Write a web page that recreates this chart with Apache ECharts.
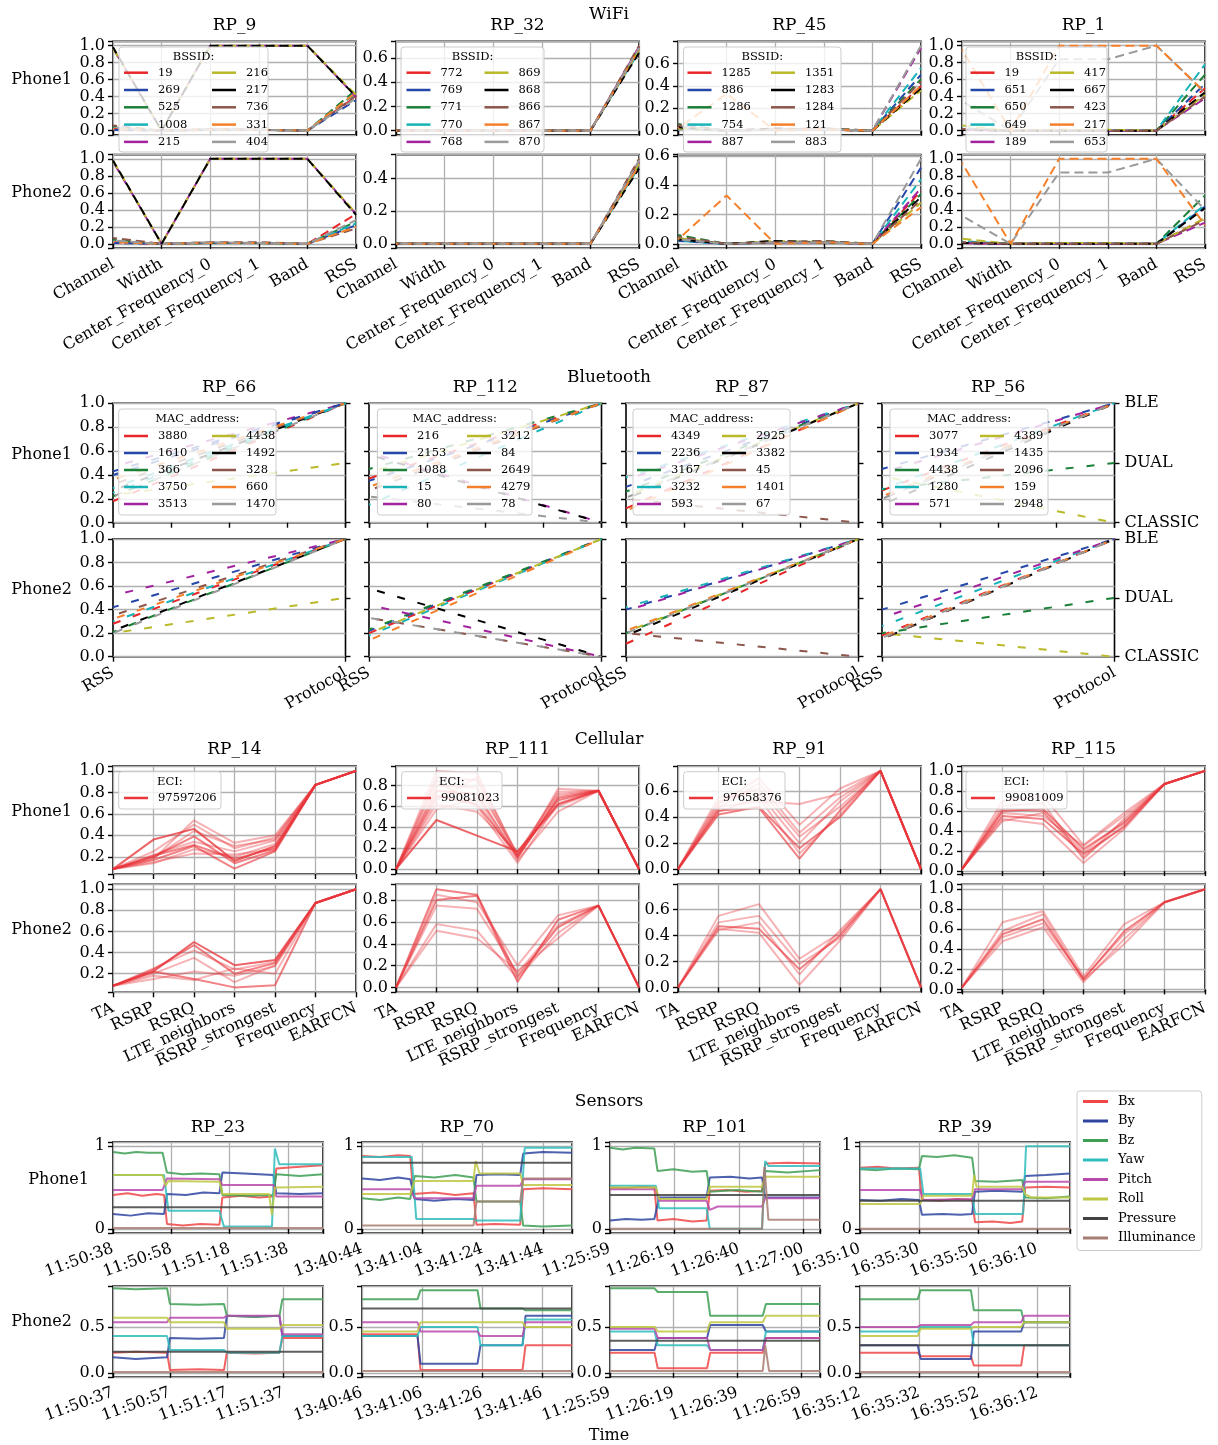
<!DOCTYPE html>
<html>
<head>
<meta charset="utf-8">
<script src="https://cdn.jsdelivr.net/npm/echarts/dist/echarts.min.js"></script>
<style>
  html, body { margin: 0; padding: 0; background: #fff; }
  #chart { width: 1218px; height: 1445px; }
</style>
</head>
<body>
<div id="chart"></div>
<script>
// ---------------- data ----------------
const wifiFeatures = ['Channel', 'Width', 'Center_Frequency_0', 'Center_Frequency_1', 'Band', 'RSS'];
const wifiRPs = ['RP_9', 'RP_32', 'RP_45', 'RP_1'];
const wifiBssids = [
  ['19', '269', '525', '1008', '215', '216', '217', '736', '331', '404'],
  ['772', '769', '771', '770', '768', '869', '868', '866', '867', '870'],
  ['1285', '886', '1286', '754', '887', '1351', '1283', '1284', '121', '883'],
  ['19', '651', '650', '649', '189', '417', '667', '423', '217', '653']
];
// rows: [bssid index, Channel, Width, CF0, CF1, Band, RSS]
const wifiRP9Phone1 = [
  [0, 0.02, 0, 0.01, 0.01, 0, 0.40], [1, 0.01, 0, 0.01, 0.01, 0, 0.36],
  [2, 0.05, 0, 0.01, 0.01, 0, 0.48], [3, 0.03, 0, 0.01, 0.01, 0, 0.44],
  [7, 0.06, 0, 0.02, 0.01, 0, 0.41], [8, 0.02, 0, 0.01, 0.01, 0, 0.45],
  [9, 0.04, 0, 0.02, 0.01, 0, 0.38], [4, 0.97, 0, 1.0, 1.0, 1.0, 0.40],
  [5, 0.97, 0, 1.0, 1.0, 1.0, 0.42], [6, 0.98, 0, 1.0, 1.0, 1.0, 0.40]
];
const wifiRP9Phone2 = [
  [0, 0.02, 0, 0.01, 0.01, 0, 0.35], [1, 0.01, 0, 0.01, 0.01, 0, 0.22],
  [2, 0.05, 0, 0.01, 0.01, 0, 0.26], [3, 0.03, 0, 0.01, 0.01, 0, 0.24],
  [7, 0.07, 0, 0.02, 0.02, 0, 0.18], [8, 0.02, 0, 0.01, 0.01, 0, 0.20],
  [9, 0.04, 0, 0.02, 0.01, 0, 0.28], [4, 0.97, 0, 1.0, 1.0, 1.0, 0.35],
  [5, 0.98, 0, 1.0, 1.0, 1.0, 0.36], [6, 0.98, 0, 1.0, 1.0, 1.0, 0.34]
];
const wifiRP32Phone1 = [
  [0, 0, 0, 0, 0, 0, 0.68], [1, 0, 0, 0, 0, 0, 0.66], [2, 0, 0, 0, 0, 0, 0.67],
  [3, 0, 0, 0, 0, 0, 0.65], [4, 0, 0, 0, 0, 0, 0.69], [5, 0, 0, 0, 0, 0, 0.66],
  [6, 0, 0, 0, 0, 0, 0.64], [7, 0, 0, 0, 0, 0, 0.70], [8, 0, 0, 0, 0, 0, 0.67],
  [9, 0, 0, 0, 0, 0, 0.68]
];
const wifiRP32Phone2 = [
  [0, 0, 0, 0, 0, 0, 0.50], [1, 0, 0, 0, 0, 0, 0.49], [2, 0, 0, 0, 0, 0, 0.48],
  [3, 0, 0, 0, 0, 0, 0.47], [4, 0, 0, 0, 0, 0, 0.50], [5, 0, 0, 0, 0, 0, 0.49],
  [6, 0, 0, 0, 0, 0, 0.46], [7, 0, 0, 0, 0, 0, 0.52], [8, 0, 0, 0, 0, 0, 0.48],
  [9, 0, 0, 0, 0, 0, 0.51]
];
const wifiRP45Phone1 = [
  [0, 0.03, 0, 0.01, 0.01, 0, 0.40], [1, 0.02, 0, 0.01, 0.01, 0, 0.50],
  [2, 0.06, 0, 0.01, 0.02, 0, 0.46], [3, 0.02, 0, 0.01, 0.01, 0, 0.56],
  [4, 0.03, 0, 0.01, 0.01, 0, 0.74], [5, 0.02, 0, 0.01, 0.01, 0, 0.36],
  [6, 0.03, 0, 0.02, 0.01, 0, 0.38], [7, 0.05, 0, 0.01, 0.02, 0, 0.44],
  [8, 0.02, 0.33, 0, 0.01, 0, 0.40], [9, 0.04, 0, 0.01, 0.01, 0, 0.76]
];
const wifiRP45Phone2 = [
  [0, 0.03, 0, 0.01, 0.01, 0, 0.36], [1, 0.02, 0, 0.01, 0.01, 0, 0.52],
  [2, 0.06, 0, 0.01, 0.02, 0, 0.34], [3, 0.02, 0, 0.01, 0.01, 0, 0.44],
  [4, 0.03, 0, 0.01, 0.01, 0, 0.38], [5, 0.04, 0, 0.02, 0.01, 0, 0.28],
  [6, 0.03, 0, 0.02, 0.01, 0, 0.32], [7, 0.05, 0, 0.01, 0.02, 0, 0.30],
  [8, 0.03, 0.33, 0, 0.01, 0, 0.25], [9, 0.03, 0, 0.01, 0.01, 0, 0.58]
];
const wifiRP1Phone1 = [
  [0, 0.01, 0, 0.01, 0, 0, 0.50], [1, 0.01, 0, 0, 0, 0, 0.55],
  [2, 0.02, 0, 0, 0, 0, 0.66], [3, 0.03, 0, 0, 0, 0, 0.78],
  [4, 0.01, 0, 0, 0, 0, 0.38], [5, 0.06, 0, 0.01, 0.01, 0, 0.42],
  [6, 0.01, 0, 0, 0, 0, 0.45], [7, 0.02, 0, 0, 0, 0, 0.40],
  [9, 0.35, 0, 0.84, 0.84, 1.0, 0.45], [8, 0.95, 0, 1.0, 1.0, 1.0, 0.45]
];
const wifiRP1Phone2 = [
  [0, 0.01, 0, 0.01, 0, 0, 0.30], [1, 0.01, 0, 0, 0, 0, 0.44],
  [2, 0.02, 0, 0, 0, 0, 0.57], [3, 0.03, 0, 0, 0, 0, 0.46],
  [4, 0.01, 0, 0, 0, 0, 0.25], [5, 0.06, 0, 0.01, 0.01, 0, 0.30],
  [6, 0.01, 0, 0, 0, 0, 0.42], [7, 0.02, 0, 0, 0, 0, 0.28],
  [9, 0.33, 0, 0.84, 0.84, 1.0, 0.40], [8, 0.95, 0, 1.0, 1.0, 1.0, 0.22]
];

const btFeatures = ['RSS', 'Protocol'];
const btProtocols = ['CLASSIC', 'DUAL', 'BLE'];
const btRPs = ['RP_66', 'RP_112', 'RP_87', 'RP_56'];
const btMacs = [
  ['3880', '1610', '366', '3750', '3513', '4438', '1492', '328', '660', '1470'],
  ['216', '2153', '1088', '15', '80', '3212', '84', '2649', '4279', '78'],
  ['4349', '2236', '3167', '3232', '593', '2925', '3382', '45', '1401', '67'],
  ['3077', '1934', '4438', '1280', '571', '4389', '1435', '2096', '159', '2948']
];
// rows: [mac index, RSS, Protocol]
const btRP66Phone1 = [[0, 0.18, 1], [1, 0.40, 1], [2, 0.22, 1], [3, 0.25, 1], [4, 0.47, 1], [5, 0.23, 0.5], [6, 0.27, 1], [7, 0.32, 1], [8, 0.36, 1], [9, 0.22, 1], [1, 0.43, 1], [3, 0.29, 1]];
const btRP66Phone2 = [[0, 0.28, 1], [1, 0.42, 1], [2, 0.21, 1], [3, 0.30, 1], [4, 0.52, 1], [5, 0.20, 0.5], [6, 0.22, 1], [7, 0.35, 1], [8, 0.32, 1], [9, 0.20, 1]];
const btRP112Phone1 = [[0, 0.37, 1], [1, 0.35, 1], [2, 0.45, 1], [3, 0.15, 1], [4, 0.59, 0], [5, 0.42, 1], [6, 0.57, 0], [7, 0.27, 1], [8, 0.30, 1], [9, 0.22, 0]];
const btRP112Phone2 = [[0, 0.20, 1], [1, 0.22, 1], [2, 0.23, 1], [3, 0.18, 1], [4, 0.44, 0], [5, 0.20, 1], [6, 0.58, 0], [7, 0.33, 0], [8, 0.14, 1], [9, 0.33, 0]];
const btRP87Phone1 = [[0, 0.12, 1], [1, 0.30, 1], [2, 0.26, 1], [3, 0.38, 1], [4, 0.36, 1], [5, 0.22, 1], [6, 0.20, 1], [7, 0.20, 0], [8, 0.10, 1], [9, 0.21, 1]];
const btRP87Phone2 = [[0, 0.11, 1], [1, 0.40, 1], [2, 0.20, 1], [3, 0.42, 1], [4, 0.39, 1], [5, 0.21, 1], [6, 0.18, 1], [7, 0.20, 0], [8, 0.22, 1], [9, 0.20, 1]];
const btRP56Phone1 = [[0, 0.27, 1], [1, 0.45, 1], [2, 0.28, 0.5], [3, 0.28, 1], [4, 0.42, 1], [5, 0.39, 0], [6, 0.15, 1], [7, 0.20, 1], [8, 0.22, 1], [9, 0.20, 1]];
const btRP56Phone2 = [[0, 0.18, 1], [1, 0.40, 1], [2, 0.20, 0.5], [3, 0.26, 1], [4, 0.33, 1], [5, 0.20, 0], [6, 0.15, 1], [7, 0.15, 1], [8, 0.17, 1], [9, 0.16, 1]];

const cellFeatures = ['TA', 'RSRP', 'RSRQ', 'LTE_neighbors', 'RSRP_strongest', 'Frequency', 'EARFCN'];
const cellRPs = ['RP_14', 'RP_111', 'RP_91', 'RP_115'];
const cellECIs = ['97597206', '99081023', '97658376', '99081009'];
// rows: [samples, TA, RSRP, RSRQ, LTE_neighbors, RSRP_strongest, Frequency, EARFCN]
const cellRP14Phone1 = [
  [3, 0.085, 0.36, 0.46, 0.16, 0.30, 0.87, 1.0], [2, 0.085, 0.20, 0.39, 0.14, 0.26, 0.87, 1.0],
  [1, 0.085, 0.18, 0.54, 0.33, 0.40, 0.87, 1.0], [1, 0.085, 0.25, 0.50, 0.28, 0.38, 0.87, 1.0],
  [1, 0.085, 0.15, 0.23, 0.22, 0.27, 0.87, 1.0], [2, 0.085, 0.17, 0.30, 0.09, 0.25, 0.87, 1.0],
  [1, 0.085, 0.22, 0.34, 0.25, 0.35, 0.87, 1.0], [1, 0.085, 0.14, 0.27, 0.20, 0.32, 0.87, 1.0],
  [1, 0.085, 0.19, 0.44, 0.30, 0.36, 0.87, 1.0], [2, 0.085, 0.21, 0.31, 0.18, 0.28, 0.87, 1.0]
];
const cellRP14Phone2 = [
  [3, 0.085, 0.22, 0.50, 0.28, 0.33, 0.87, 1.0], [2, 0.085, 0.24, 0.47, 0.20, 0.30, 0.87, 1.0],
  [2, 0.085, 0.22, 0.15, 0.07, 0.09, 0.87, 1.0], [1, 0.085, 0.15, 0.22, 0.18, 0.27, 0.87, 1.0],
  [1, 0.085, 0.20, 0.35, 0.12, 0.28, 0.87, 1.0], [1, 0.085, 0.25, 0.42, 0.24, 0.31, 0.87, 1.0],
  [1, 0.085, 0.18, 0.14, 0.25, 0.20, 0.87, 1.0]
];
const cellRP111Phone1 = [
  [3, 0, 0.47, 0.32, 0.17, 0.62, 0.75, 0], [1, 0, 0.94, 0.92, 0.12, 0.70, 0.75, 0],
  [1, 0, 0.88, 0.85, 0.10, 0.77, 0.75, 0], [1, 0, 0.80, 0.78, 0.15, 0.72, 0.75, 0],
  [2, 0, 0.70, 0.62, 0.13, 0.66, 0.75, 0], [1, 0, 0.62, 0.55, 0.16, 0.60, 0.75, 0],
  [1, 0, 0.57, 0.68, 0.08, 0.55, 0.75, 0], [2, 0, 0.75, 0.72, 0.11, 0.68, 0.75, 0],
  [1, 0, 0.66, 0.88, 0.14, 0.74, 0.75, 0], [1, 0, 0.85, 0.60, 0.06, 0.63, 0.75, 0]
];
const cellRP111Phone2 = [
  [2, 0, 0.90, 0.85, 0.10, 0.55, 0.75, 0], [2, 0, 0.80, 0.84, 0.05, 0.62, 0.75, 0],
  [1, 0, 0.75, 0.72, 0.13, 0.57, 0.75, 0], [1, 0, 0.58, 0.52, 0.08, 0.50, 0.75, 0],
  [1, 0, 0.52, 0.45, 0.15, 0.45, 0.75, 0], [1, 0, 0.85, 0.78, 0.20, 0.66, 0.75, 0]
];
const cellRP91Phone1 = [
  [2, 0, 0.45, 0.47, 0.08, 0.45, 0.755, 0], [2, 0, 0.42, 0.48, 0.16, 0.40, 0.755, 0],
  [1, 0, 0.50, 0.70, 0.34, 0.62, 0.755, 0], [1, 0, 0.48, 0.52, 0.50, 0.58, 0.755, 0],
  [1, 0, 0.52, 0.62, 0.25, 0.48, 0.755, 0], [1, 0, 0.55, 0.58, 0.20, 0.52, 0.755, 0],
  [1, 0, 0.47, 0.66, 0.28, 0.55, 0.755, 0], [1, 0, 0.44, 0.55, 0.12, 0.42, 0.755, 0]
];
const cellRP91Phone2 = [
  [2, 0, 0.47, 0.45, 0.14, 0.40, 0.755, 0], [1, 0, 0.55, 0.64, 0.22, 0.42, 0.755, 0],
  [1, 0, 0.50, 0.55, 0.18, 0.38, 0.755, 0], [1, 0, 0.45, 0.42, 0.02, 0.36, 0.755, 0],
  [1, 0, 0.44, 0.50, 0.10, 0.44, 0.755, 0]
];
const cellRP115Phone1 = [
  [2, 0.02, 0.60, 0.62, 0.22, 0.48, 0.87, 1.0], [2, 0.02, 0.55, 0.52, 0.17, 0.44, 0.87, 1.0],
  [1, 0.02, 0.70, 0.75, 0.26, 0.58, 0.87, 1.0], [1, 0.02, 0.52, 0.47, 0.08, 0.42, 0.87, 1.0],
  [1, 0.02, 0.65, 0.68, 0.12, 0.52, 0.87, 1.0], [1, 0.02, 0.58, 0.55, 0.25, 0.55, 0.87, 1.0],
  [1, 0.02, 0.62, 0.60, 0.14, 0.46, 0.87, 1.0], [1, 0.02, 0.50, 0.58, 0.19, 0.50, 0.87, 1.0]
];
const cellRP115Phone2 = [
  [2, 0.02, 0.55, 0.70, 0.10, 0.58, 0.87, 1.0], [1, 0.02, 0.48, 0.62, 0.07, 0.50, 0.87, 1.0],
  [1, 0.02, 0.67, 0.78, 0.13, 0.65, 0.87, 1.0], [1, 0.02, 0.58, 0.75, 0.09, 0.45, 0.87, 1.0],
  [1, 0.02, 0.52, 0.66, 0.11, 0.55, 0.87, 1.0]
];

const senNames = ['Bx', 'By', 'Bz', 'Yaw', 'Pitch', 'Roll', 'Pressure', 'Illuminance'];
const senRPs = ['RP_23', 'RP_70', 'RP_101', 'RP_39'];
const senTicksPhone1 = [
  ['11:50:38', '11:50:58', '11:51:18', '11:51:38'], ['13:40:44', '13:41:04', '13:41:24', '13:41:44'],
  ['11:25:59', '11:26:19', '11:26:40', '11:27:00'], ['16:35:10', '16:35:30', '16:35:50', '16:36:10']
];
const senTicksPhone2 = [
  ['11:50:37', '11:50:57', '11:51:17', '11:51:37'], ['13:40:46', '13:41:06', '13:41:26', '13:41:46'],
  ['11:25:59', '11:26:19', '11:26:39', '11:26:59'], ['16:35:12', '16:35:32', '16:35:52', '16:36:12']
];
const senTickStepPhone1 = [20, 20, 20.33, 20];      // seconds between labelled ticks
const senTickStepPhone2 = [20, 20, 20, 20];
const senSpanPhone1 = [72, 69.7, 66.3, 71.2];        // seconds shown
const senSpanPhone2 = [73.8, 70, 66, 71];
// each sensor: [[seconds, normalised value], ...]
const senRP23Phone1 = [
  [[0, 0.41], [5, 0.43], [10, 0.40], [15, 0.42], [17.5, 0.41], [18.5, 0.06], [24, 0.04], [30, 0.06], [36.5, 0.05], [37.5, 0.38], [44, 0.40], [50, 0.38], [55, 0.39], [56, 0.73], [64, 0.75], [72, 0.77]],
  [[0, 0.18], [6, 0.16], [12, 0.19], [17.5, 0.18], [18.5, 0.42], [25, 0.41], [31, 0.44], [36.5, 0.43], [37.5, 0.68], [45, 0.67], [55, 0.65], [56, 0.43], [64, 0.42], [72, 0.43]],
  [[0, 0.93], [4, 0.91], [8, 0.93], [12, 0.92], [17, 0.92], [18.5, 0.68], [24, 0.66], [30, 0.67], [36.5, 0.66], [37.5, 0.41], [46, 0.40], [55, 0.41], [56, 0.66], [64, 0.64], [72, 0.66]],
  [[0, 0.65], [17.5, 0.65], [19, 0.22], [36.5, 0.22], [38, 0.03], [54.5, 0.03], [55.5, 0.97], [57, 0.78], [72, 0.78]],
  [[0, 0.47], [17, 0.47], [18.5, 0.61], [36.5, 0.60], [37.5, 0.53], [55, 0.53], [56, 0.39], [72, 0.39]],
  [[0, 0.65], [17, 0.65], [18, 0.52], [19, 0.58], [36.5, 0.57], [37.5, 0.42], [53.5, 0.42], [54.5, 0.17], [55.5, 0.50], [72, 0.51]],
  [[0, 0.26], [72, 0.26]],
  [[0, 0.01], [72, 0.01]]
];
const senRP70Phone1 = [
  [[0, 0.88], [6, 0.87], [12, 0.89], [16, 0.88], [17, 0.42], [24, 0.44], [31, 0.41], [37, 0.43], [38, 0.05], [44, 0.06], [52.5, 0.05], [53.5, 0.48], [60, 0.49], [69.7, 0.48]],
  [[0, 0.61], [6, 0.59], [12, 0.62], [16, 0.60], [17.5, 0.36], [24, 0.34], [31, 0.36], [37, 0.35], [38, 0.65], [45, 0.66], [52.5, 0.65], [53.5, 0.91], [60, 0.93], [69.7, 0.92]],
  [[0, 0.37], [6, 0.35], [12, 0.38], [16, 0.36], [17.5, 0.64], [24, 0.62], [31, 0.65], [37, 0.62], [38, 0.33], [52.5, 0.33], [53.5, 0.04], [60, 0.03], [69.7, 0.04]],
  [[0, 0.87], [16.5, 0.87], [18, 0.12], [37, 0.12], [38, 0.10], [52.5, 0.10], [54, 0.98], [69.7, 0.98]],
  [[0, 0.48], [16, 0.48], [17.5, 0.37], [37, 0.37], [38, 0.52], [52.5, 0.52], [53.5, 0.60], [69.7, 0.60]],
  [[0, 0.42], [16, 0.42], [17.5, 0.58], [37, 0.58], [37.7, 0.82], [39, 0.67], [52.5, 0.67], [53.5, 0.53], [69.7, 0.53]],
  [[0, 0.80], [69.7, 0.80]],
  [[0, 0.04], [37, 0.04], [38, 0.33], [52.5, 0.33], [53.5, 0.61], [69.7, 0.61]]
];
const senRP101Phone1 = [
  [[0, 0.50], [5, 0.49], [10, 0.51], [14, 0.50], [15, 0.10], [20, 0.12], [26, 0.09], [30.5, 0.10], [31.5, 0.46], [37, 0.47], [43, 0.45], [48, 0.46], [49, 0.79], [56, 0.80], [66.3, 0.79]],
  [[0, 0.10], [5, 0.12], [10, 0.11], [14, 0.12], [15.5, 0.38], [30.5, 0.38], [31.5, 0.62], [38, 0.63], [44, 0.61], [48, 0.62], [49, 0.38], [66.3, 0.38]],
  [[0, 0.98], [4, 0.96], [8, 0.98], [14, 0.97], [15, 0.70], [20, 0.72], [26, 0.69], [30.5, 0.70], [31.5, 0.45], [40, 0.47], [48, 0.45], [49, 0.70], [56, 0.68], [66.3, 0.71]],
  [[0, 0.52], [14.5, 0.52], [15.5, 0.25], [30.5, 0.25], [31.5, 0.0], [48, 0.0], [49, 0.82], [50, 0.76], [66.3, 0.76]],
  [[0, 0.48], [14.5, 0.48], [15.5, 0.34], [30.5, 0.34], [31.5, 0.23], [34, 0.27], [48, 0.27], [49, 0.37], [66.3, 0.37]],
  [[0, 0.50], [14.5, 0.50], [15.5, 0.36], [30.5, 0.36], [31.5, 0.51], [48, 0.51], [49, 0.63], [66.3, 0.63]],
  [[0, 0.41], [66.3, 0.41]],
  [[0, 0.0], [48, 0.0], [48.8, 0.75], [50, 0.11], [66.3, 0.11]]
];
const senRP39Phone1 = [
  [[0, 0.74], [6, 0.75], [12, 0.73], [20, 0.74], [21, 0.35], [27, 0.34], [33, 0.36], [38, 0.35], [39, 0.08], [45, 0.09], [51, 0.07], [55, 0.09], [56, 0.50], [63, 0.51], [71.2, 0.50]],
  [[0, 0.35], [7, 0.34], [14, 0.36], [20, 0.35], [21, 0.17], [28, 0.18], [34, 0.17], [38, 0.18], [39, 0.45], [46, 0.46], [55, 0.45], [56, 0.64], [63, 0.65], [71.2, 0.67]],
  [[0, 0.72], [6, 0.71], [12, 0.73], [20, 0.72], [21, 0.88], [26, 0.87], [32, 0.89], [38, 0.86], [39, 0.58], [46, 0.57], [55, 0.59], [56, 0.38], [63, 0.37], [71.2, 0.39]],
  [[0, 0.73], [20.4, 0.73], [21.5, 0.42], [38, 0.42], [39, 0.18], [55.3, 0.18], [56.3, 1.0], [71.2, 1.0]],
  [[0, 0.47], [20.4, 0.47], [21.5, 0.35], [38, 0.36], [39, 0.48], [55, 0.48], [56, 0.57], [71.2, 0.57]],
  [[0, 0.30], [20.4, 0.30], [21.5, 0.40], [38, 0.40], [38.7, 0.65], [39.5, 0.51], [55, 0.51], [56, 0.42], [58, 0.38], [71.2, 0.38]],
  [[0, 0.34], [71.2, 0.34]],
  [[0, 0.0], [71.2, 0.0]]
];
const senRP23Phone2 = [
  [[0, 0.22], [8, 0.23], [19, 0.22], [20, 0.03], [30, 0.04], [39, 0.03], [40, 0.22], [50, 0.21], [58.5, 0.22], [59.5, 0.38], [73.8, 0.38]],
  [[0, 0.17], [8, 0.15], [19, 0.17], [20, 0.38], [30, 0.37], [39, 0.38], [40, 0.62], [50, 0.61], [58.5, 0.62], [59.5, 0.40], [73.8, 0.40]],
  [[0, 0.92], [8, 0.91], [19, 0.92], [20, 0.75], [30, 0.74], [39, 0.75], [40, 0.62], [50, 0.61], [58.5, 0.62], [59.5, 0.80], [73.8, 0.80]],
  [[0, 0.40], [19, 0.40], [20, 0.25], [39, 0.25], [40, 0.22], [58.5, 0.22], [59.5, 0.40], [73.8, 0.40]],
  [[0, 0.55], [19, 0.55], [20, 0.60], [39, 0.60], [40, 0.62], [58.5, 0.62], [59.5, 0.42], [73.8, 0.42]],
  [[0, 0.60], [19, 0.60], [20, 0.55], [39, 0.55], [40, 0.48], [58.5, 0.48], [59.5, 0.52], [73.8, 0.52]],
  [[0, 0.23], [73.8, 0.23]],
  [[0, 0.01], [73.8, 0.01]]
];
const senRP70Phone2 = [
  [[0, 0.42], [18.5, 0.42], [19.5, 0.03], [53.5, 0.03], [54.5, 0.30], [70, 0.30]],
  [[0, 0.40], [18.5, 0.40], [19.5, 0.10], [38.5, 0.10], [39.5, 0.30], [53.5, 0.30], [54.5, 0.62], [70, 0.62]],
  [[0, 0.80], [18.5, 0.80], [19.5, 0.90], [38.5, 0.90], [39.5, 0.70], [53.5, 0.70], [54.5, 0.68], [70, 0.68]],
  [[0, 0.40], [18.5, 0.40], [19.5, 0.50], [38.5, 0.50], [39.5, 0.30], [53.5, 0.30], [54.5, 0.58], [70, 0.58]],
  [[0, 0.55], [18.5, 0.55], [19.5, 0.45], [38.5, 0.45], [39.5, 0.40], [53.5, 0.40], [54.5, 0.55], [70, 0.55]],
  [[0, 0.45], [18.5, 0.45], [19.5, 0.55], [53.5, 0.55], [54.5, 0.50], [70, 0.50]],
  [[0, 0.70], [70, 0.70]],
  [[0, 0.02], [70, 0.02]]
];
const senRP101Phone2 = [
  [[0, 0.22], [14, 0.22], [15, 0.05], [30.5, 0.05], [31.5, 0.22], [48, 0.22], [49, 0.38], [66, 0.38]],
  [[0, 0.25], [14, 0.25], [15, 0.38], [30.5, 0.38], [31.5, 0.52], [48, 0.52], [49, 0.45], [66, 0.45]],
  [[0, 0.92], [14, 0.92], [15, 0.88], [30.5, 0.88], [31.5, 0.62], [48, 0.62], [49, 0.75], [66, 0.75]],
  [[0, 0.45], [14, 0.45], [15, 0.30], [30.5, 0.30], [31.5, 0.25], [48, 0.25], [49, 0.45], [66, 0.45]],
  [[0, 0.48], [14, 0.48], [15, 0.38], [30.5, 0.38], [31.5, 0.25], [48, 0.25], [49, 0.38], [66, 0.38]],
  [[0, 0.50], [14, 0.50], [15, 0.45], [30.5, 0.45], [31.5, 0.55], [48, 0.55], [49, 0.62], [66, 0.62]],
  [[0, 0.35], [66, 0.35]],
  [[0, 0.02], [48, 0.02], [48.8, 0.30], [50, 0.02], [66, 0.02]]
];
const senRP39Phone2 = [
  [[0, 0.22], [19.5, 0.22], [20.5, 0.18], [37.5, 0.18], [38.5, 0.08], [54.5, 0.08], [55.5, 0.30], [71, 0.30]],
  [[0, 0.30], [19.5, 0.30], [20.5, 0.15], [37.5, 0.15], [38.5, 0.45], [54.5, 0.45], [55.5, 0.55], [71, 0.55]],
  [[0, 0.80], [19.5, 0.80], [20.5, 0.90], [37.5, 0.90], [38.5, 0.68], [54.5, 0.68], [55.5, 0.55], [71, 0.55]],
  [[0, 0.45], [19.5, 0.45], [20.5, 0.50], [37.5, 0.50], [38.5, 0.30], [71, 0.30]],
  [[0, 0.50], [19.5, 0.50], [20.5, 0.52], [37.5, 0.52], [38.5, 0.55], [54.5, 0.55], [55.5, 0.62], [71, 0.62]],
  [[0, 0.40], [19.5, 0.40], [20.5, 0.48], [37.5, 0.48], [38.5, 0.50], [54.5, 0.50], [55.5, 0.55], [71, 0.55]],
  [[0, 0.30], [71, 0.30]],
  [[0, 0.01], [71, 0.01]]
];

// ---------------- styles ----------------
const FONT = 'DejaVu Serif';
const PAL = ['#e8272a', '#2447a8', '#1a7f37', '#18b3b8', '#a2229e', '#b9b92a', '#000000', '#8c564b', '#f5802c', '#9a9a9a'];
const SEN_COLORS = ['#ef4747', '#2f45a0', '#3d9f53', '#2fbcbc', '#b84aab', '#bec743', '#424242', '#a77c72'];
const CELL_RED = '#e8343a';
const GRID_C = '#b0b0b0';

const option = { animation: false, backgroundColor: '#fff', grid: [], xAxis: [], yAxis: [], series: [], legend: [] };
const gfx = [];

function text(x, y, s, size, align) {
  gfx.push({
    type: 'text', x: x, y: y, z: 30, silent: true,
    style: { text: s, fill: '#000', font: size + 'px "' + FONT + '"', textAlign: align || 'center', textVerticalAlign: 'middle', align: align || 'center', verticalAlign: 'middle' }
  });
}
function box(x0, y0, x1, y1) {
  gfx.push({
    type: 'rect', z: 15, silent: true, shape: { x: x0, y: y0, width: x1 - x0, height: y1 - y0, r: 3 },
    style: { fill: 'rgba(255,255,255,0.8)', stroke: '#cccccc', lineWidth: 1 }
  });
}
function addGrid(left, top, width, height) {
  option.grid.push({ left, top, width, height, show: true, borderColor: '#000', borderWidth: 1.6, backgroundColor: 'rgba(0,0,0,0)' });
  return option.grid.length - 1;
}
function tick() { return { show: true, length: 5, inside: false, interval: 0, lineStyle: { color: '#000', width: 1.4 } }; }
function split(show) { return { show, interval: 0, lineStyle: { color: GRID_C, width: 1.3 } }; }
function lbl(show, extra) { return Object.assign({ show, fontFamily: FONT, fontSize: 16, color: '#000', margin: 8 }, extra || {}); }
function fmt(step, dec) {
  return v => { const k = Math.round(v / step); return Math.abs(v - k * step) < 1e-6 ? (k * step).toFixed(dec) : ''; };
}
function catAxis(g, cats, showLabel, rot, splitShow) {
  option.xAxis.push({ gridIndex: g, type: 'category', data: cats, boundaryGap: false, axisLine: { show: false }, axisTick: tick(), splitLine: split(splitShow), axisLabel: lbl(showLabel, { interval: 0, rotate: rot, hideOverlap: false, margin: 15 }) });
  return option.xAxis.length - 1;
}
function valAxis(g, lo, hi, step, dec, showLabel, splitShow) {
  option.yAxis.push({ gridIndex: g, type: 'value', min: lo, max: hi, minInterval: step, maxInterval: step, axisLine: { show: false }, axisTick: tick(), splitLine: split(splitShow), axisLabel: lbl(showLabel, { formatter: fmt(step, dec), showMinLabel: true, showMaxLabel: true }) });
  return option.yAxis.length - 1;
}
function autoRange(rows, skip) {
  let lo = Infinity, hi = -Infinity;
  rows.forEach(r => r.slice(skip).forEach(v => { lo = Math.min(lo, v); hi = Math.max(hi, v); }));
  const pad = (hi - lo) * 0.05;
  return [lo - pad, hi + pad];
}
function addLegend(names, left, top, pitch, gap, lineH) {
  const half = Math.ceil(names.length / 2), order = [];
  for (let i = 0; i < half; i++) { order.push(names[i]); if (i + half < names.length) order.push(names[i + half]); }
  option.legend.push({
    data: order, left, top, orient: 'horizontal', width: 2 * pitch, padding: 0, itemGap: gap,
    itemWidth: 24, itemHeight: 2.5, icon: 'rect', selectedMode: false, z: 20,
    formatter: n => n.slice(n.indexOf(' ') + 1),
    textStyle: { fontFamily: FONT, fontSize: 11.5, color: '#000', width: pitch - gap - 34, lineHeight: lineH, overflow: 'none', padding: [0, 0, 0, 5] }
  });
}

// ---------------- WiFi ----------------
const wifiRows = [[wifiRP9Phone1, wifiRP9Phone2], [wifiRP32Phone1, wifiRP32Phone2], [wifiRP45Phone1, wifiRP45Phone2], [wifiRP1Phone1, wifiRP1Phone2]];
const wifiLeft = [113, 396, 678, 962], wifiW = 243, wifiTop = [41.4, 154.6], wifiH = 93.5;
const wifiLegBox = [[119, 47, 268, 152], [401, 47, 544, 152], [683.5, 47, 841, 152], [966, 47, 1107, 152]];
const wifiLegItem = [[124, 88], [406.5, 78], [687.5, 83.5], [970.5, 79.5]];
text(609, 15, 'WiFi', 17);
wifiRPs.forEach((rp, c) => {
  text(wifiLeft[c] + wifiW / 2, 25.5, rp, 17);
  [0, 1].forEach(p => {
    const rows = wifiRows[c][p];
    const g = addGrid(wifiLeft[c], wifiTop[p], wifiW, wifiH);
    const xi = catAxis(g, wifiFeatures, p === 1, 30, true);
    const rng = autoRange(rows, 1);
    const yi = valAxis(g, rng[0], rng[1], 0.2, 1, true, true);
    rows.forEach(r => {
      const i = r[0];
      option.series.push({
        type: 'line', name: rp + ' ' + wifiBssids[c][i], xAxisIndex: xi, yAxisIndex: yi, data: r.slice(1),
        symbol: 'none', silent: true, z: 3, itemStyle: { color: PAL[i] },
        lineStyle: { color: PAL[i], width: 2, type: [9, 5], dashOffset: i * 2.7 }
      });
    });
  });
  const b = wifiLegBox[c];
  box(b[0], b[1], b[2], b[3]);
  text((b[0] + b[2]) / 2, 57, 'BSSID:', 11.5);
  addLegend(wifiBssids[c].map(id => rp + ' ' + id), wifiLegItem[c][0], 65.7, wifiLegItem[c][1], 3.3, 14);
});
text(72, 80, 'Phone1', 16, 'right');
text(72, 193, 'Phone2', 16, 'right');

// ---------------- Bluetooth ----------------
const btRows = [[btRP66Phone1, btRP66Phone2], [btRP112Phone1, btRP112Phone2], [btRP87Phone1, btRP87Phone2], [btRP56Phone1, btRP56Phone2]];
const btLeft = [113, 369, 626, 882], btW = 232.5, btTop = [403.3, 539], btH = [119.4, 117.7];
const btLegBox = [[118.7, 409, 276, 515], [377.4, 409, 532, 515], [633, 409, 790, 515], [890, 409, 1048, 515]];
const btLegItem = [[124, 88], [383, 84], [637, 85], [895, 85]];
text(609, 378, 'Bluetooth', 17);
btRPs.forEach((rp, c) => {
  text(btLeft[c] + btW / 2, 388, rp, 17);
  [0, 1].forEach(p => {
    const rows = btRows[c][p];
    const g = addGrid(btLeft[c], btTop[p], btW, btH[p]);
    const xi = catAxis(g, btFeatures, p === 1, 30, false);
    if (p === 0) {
      // the upper row also carries quarter ticks along its bottom edge
      option.xAxis.push({
        gridIndex: g, type: 'value', position: 'bottom', min: 0, max: 1, interval: 0.25,
        axisLine: { show: false }, axisTick: tick(), splitLine: { show: false }, axisLabel: { show: false }
      });
    }
    const yi = valAxis(g, 0, 1, 0.2, 1, c === 0, true);
    option.yAxis.push({
      gridIndex: g, type: 'value', position: 'right', min: 0, max: 1, interval: 0.5,
      axisLine: { show: false }, axisTick: tick(), splitLine: { show: false },
      axisLabel: lbl(c === 3, { margin: 10, formatter: v => btProtocols[Math.round(v * 2)] })
    });
    rows.forEach(r => {
      const i = r[0];
      option.series.push({
        type: 'line', name: rp + ' ' + btMacs[c][i], xAxisIndex: xi, yAxisIndex: yi, data: r.slice(1),
        symbol: 'none', silent: true, z: 3, itemStyle: { color: PAL[i] },
        lineStyle: { color: PAL[i], width: 2, type: [8, 13], dashOffset: i * 2.1 }
      });
    });
  });
  const b = btLegBox[c];
  box(b[0], b[1], b[2], b[3]);
  text((b[0] + b[2]) / 2, 419, 'MAC_address:', 11.5);
  addLegend(btMacs[c].map(id => rp + ' ' + id), btLegItem[c][0], 429, btLegItem[c][1], 3, 14);
});
text(72, 455, 'Phone1', 16, 'right');
text(72, 590, 'Phone2', 16, 'right');

// ---------------- Cellular ----------------
const cellRows = [[cellRP14Phone1, cellRP14Phone2], [cellRP111Phone1, cellRP111Phone2], [cellRP91Phone1, cellRP91Phone2], [cellRP115Phone1, cellRP115Phone2]];
const cellTop = [766, 884.3], cellH = 108;
const cellLegBox = [[118.7, 771.7, 221, 809], [401.6, 771.7, 502, 809], [683.6, 771.7, 785, 809], [966, 771.7, 1067, 809]];
const cellLegItem = [124, 407, 689, 971];
text(609, 740, 'Cellular', 17);
cellRPs.forEach((rp, c) => {
  text(wifiLeft[c] + wifiW / 2, 750, rp, 17);
  [0, 1].forEach(p => {
    const rows = cellRows[c][p];
    const g = addGrid(wifiLeft[c], cellTop[p], wifiW, cellH);
    const xi = catAxis(g, cellFeatures, p === 1, 25, true);
    const rng = autoRange(rows, 1);
    const yi = valAxis(g, rng[0], rng[1], 0.2, 1, true, true);
    rows.forEach(r => {
      option.series.push({
        type: 'line', name: rp + ' ' + cellECIs[c], xAxisIndex: xi, yAxisIndex: yi, data: r.slice(1),
        symbol: 'none', silent: true, z: 3, itemStyle: { color: CELL_RED },
        lineStyle: { color: CELL_RED, width: 2, opacity: 1 - Math.pow(0.62, r[0]) }
      });
    });
  });
  const b = cellLegBox[c];
  box(b[0], b[1], b[2], b[3]);
  text((b[0] + b[2]) / 2, 781.7, 'ECI:', 11.5);
  addLegend([rp + ' ' + cellECIs[c]], cellLegItem[c], 791, 90, 3, 14);
});
text(72, 812, 'Phone1', 16, 'right');
text(72, 930, 'Phone2', 16, 'right');

// ---------------- Sensors ----------------
const senRows = [[senRP23Phone1, senRP23Phone2], [senRP70Phone1, senRP70Phone2], [senRP101Phone1, senRP101Phone2], [senRP39Phone1, senRP39Phone2]];
const senLeft = [113, 362, 610, 860], senW = 210, senTop = [1142, 1286], senH = 91;
const senY = [[-0.05, 1.05], [-0.045, 0.945]];
const senYStep = [1, 0.5], senYDec = [0, 1];
text(609, 1102, 'Sensors', 17);
senRPs.forEach((rp, c) => {
  text(senLeft[c] + senW / 2, 1128, rp, 17);
  [0, 1].forEach(p => {
    const g = addGrid(senLeft[c], senTop[p], senW, senH);
    const step = p === 0 ? senTickStepPhone1[c] : senTickStepPhone2[c];
    const labels = p === 0 ? senTicksPhone1[c] : senTicksPhone2[c];
    option.xAxis.push({
      gridIndex: g, type: 'value', min: 0, max: p === 0 ? senSpanPhone1[c] : senSpanPhone2[c], interval: step,
      axisLine: { show: false }, axisTick: tick(), splitLine: split(true),
      axisLabel: lbl(true, { rotate: 20, margin: 15, showMaxLabel: true, hideOverlap: false, formatter: v => { const k = Math.round(v / step); return Math.abs(v - k * step) < 1e-6 ? (labels[k] || '') : ''; } })
    });
    const xi = option.xAxis.length - 1;
    const yi = valAxis(g, senY[p][0], senY[p][1], senYStep[p], senYDec[p], true, true);
    senRows[c][p].forEach((pts, s) => {
      option.series.push({
        type: 'line', name: senNames[s], xAxisIndex: xi, yAxisIndex: yi, data: pts,
        symbol: 'none', silent: true, z: 3, itemStyle: { color: SEN_COLORS[s] },
        lineStyle: { color: SEN_COLORS[s], width: 2, opacity: 0.85 }
      });
    });
  });
});
text(89, 1180, 'Phone1', 16, 'right');
text(72, 1322, 'Phone2', 16, 'right');
text(609, 1436, 'Time', 16);
option.legend.push({
  data: senNames, left: 1077, top: 1091, orient: 'vertical', padding: [3, 6, 5, 6], itemGap: 4.5,
  itemWidth: 25, itemHeight: 3, icon: 'rect', selectedMode: false, z: 20,
  backgroundColor: '#fff', borderColor: '#cccccc', borderWidth: 1, borderRadius: 3,
  textStyle: { fontFamily: FONT, fontSize: 13, color: '#000', lineHeight: 15, padding: [0, 0, 0, 5] }
});

option.graphic = { elements: gfx };
const chart = echarts.init(document.getElementById('chart'), null, { renderer: 'canvas' });
chart.setOption(option);
</script>
</body>
</html>
